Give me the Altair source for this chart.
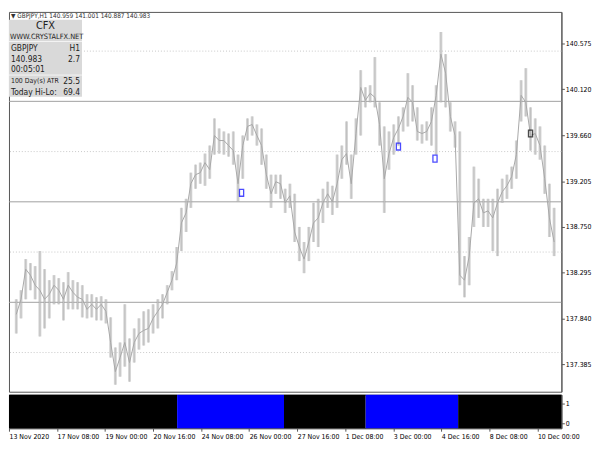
import altair as alt
import pandas as pd

# ---- data (4-hour groups of the H1 candles) ----
hi = [138.03, 138.12, 138.43, 138.39, 138.36, 138.51, 138.33, 138.22, 138.27, 138.24,
      138.20, 138.30, 138.22, 138.20, 138.17, 138.08, 138.08, 138.05, 138.06, 138.03,
      137.85, 137.55, 137.60, 137.98, 137.64, 137.74, 137.84, 137.91, 137.93, 137.98,
      138.03, 138.08, 138.17, 138.31, 138.55, 138.94, 139.03, 139.29, 139.37, 139.39,
      139.48, 139.56, 139.83, 139.73, 139.70, 139.68, 139.70, 139.47, 139.66, 139.83,
      139.85, 139.77, 139.73, 139.47, 139.27, 139.27, 139.27, 139.13, 139.18, 139.08,
      138.75, 138.60, 138.75, 138.99, 139.03, 139.13, 139.20, 139.16, 139.47, 139.56,
      139.80, 139.47, 139.83, 140.31, 140.14, 140.16, 140.44, 139.99, 139.75, 139.70,
      139.77, 139.85, 139.94, 140.28, 140.16, 139.94, 139.77, 139.80, 139.94, 140.16,
      140.69, 140.47, 139.99, 139.80, 139.70, 138.46, 138.65, 139.35, 139.23, 139.03,
      139.03, 139.03, 139.13, 139.23, 139.27, 139.35, 139.61, 140.21, 140.33, 139.94,
      139.83, 139.75, 139.56, 139.18, 138.94]
lo = [137.69, 137.84, 138.03, 138.12, 138.03, 137.66, 137.74, 137.84, 137.98, 137.98,
      137.82, 137.93, 137.93, 137.93, 137.85, 137.84, 137.85, 137.82, 137.82, 137.79,
      137.45, 137.18, 137.26, 137.36, 137.21, 137.40, 137.53, 137.57, 137.60, 137.69,
      137.74, 137.84, 137.98, 138.12, 138.22, 138.51, 138.70, 138.94, 139.13, 139.18,
      139.16, 139.23, 139.47, 139.48, 139.47, 139.45, 139.37, 139.00, 139.23, 139.61,
      139.66, 139.56, 139.37, 139.13, 138.94, 139.08, 139.03, 138.89, 138.94, 138.60,
      138.41, 138.29, 138.41, 138.60, 138.55, 138.79, 138.94, 138.87, 138.94, 139.23,
      139.37, 139.03, 139.47, 139.66, 139.94, 139.99, 139.94, 139.56, 138.89, 139.32,
      139.47, 139.56, 139.70, 139.75, 139.80, 139.61, 139.58, 139.61, 139.56, 139.47,
      139.99, 139.94, 139.70, 139.54, 138.17, 138.05, 138.17, 138.75, 138.84, 138.75,
      138.75, 138.51, 138.46, 138.99, 139.03, 139.13, 139.23, 139.80, 139.85, 139.51,
      139.47, 139.42, 139.08, 138.65, 138.46]
close = [137.88, 138.03, 138.33, 138.27, 138.17, 138.12, 138.03, 138.08, 138.17, 138.12,
         138.03, 138.17, 138.10, 138.05, 138.03, 137.93, 137.98, 137.93, 137.98, 137.91,
         137.60, 137.31, 137.45, 137.60, 137.40, 137.60, 137.69, 137.72, 137.74, 137.84,
         137.91, 137.98, 138.10, 138.22, 138.39, 138.79, 138.89, 139.18, 139.27, 139.29,
         139.39, 139.32, 139.66, 139.61, 139.61, 139.56, 139.51, 139.18, 139.56, 139.75,
         139.77, 139.66, 139.56, 139.27, 139.08, 139.20, 139.18, 138.99, 139.06, 138.70,
         138.55, 138.43, 138.60, 138.79, 138.84, 138.99, 139.08, 139.00, 139.18, 139.42,
         139.48, 139.18, 139.68, 140.14, 140.01, 140.08, 140.04, 139.77, 139.23, 139.48,
         139.64, 139.73, 139.85, 140.04, 139.99, 139.70, 139.68, 139.70, 139.80, 140.06,
         140.47, 140.28, 139.85, 139.66, 138.27, 138.22, 138.46, 138.99, 139.03, 138.89,
         138.91, 138.84, 138.99, 139.10, 139.16, 139.25, 139.47, 140.06, 139.99, 139.66,
         139.68, 139.56, 139.23, 138.84, 138.60]

tick_bars = [0, 40, 80, 120, 160, 200, 240, 280, 320, 360, 400, 440]
tick_labels = ["13 Nov 2020", "17 Nov 08:00", "19 Nov 00:00", "20 Nov 16:00",
               "24 Nov 08:00", "26 Nov 00:00", "27 Nov 16:00", "1 Dec 08:00",
               "3 Dec 00:00", "4 Dec 16:00", "8 Dec 08:00", "10 Dec 00:00"]
price_ticks = [140.575, 140.120, 139.660, 139.205, 138.750, 138.295, 137.840, 137.385]
solid_levels = [140.0, 139.0, 138.0]
dotted_levels = [140.5, 139.5, 138.5, 137.5]

marker_bars = [193, 326, 357, 438]
marker_prices = [139.09, 139.55, 139.43, 139.68]
marker_colors = ["#0000ff", "#0000ff", "#0000ff", "#000000"]

seg_start = [0, 140, 229, 297, 374]
seg_end = [140, 229, 297, 374, 460]
seg_color = ["#000000", "#0000ff", "#000000", "#0000ff", "#000000"]

info_left = ["GBPJPY", "140.983", "00:05:01", "100 Day(s) ATR", "Today Hi-Lo:"]
info_right = ["H1", "2.7", "", "25.5", "69.4"]
header = "\u25BC GBPJPY,H1  140.959 141.001 140.887 140.983"

FONT = "'DejaVu Sans Condensed', 'Liberation Sans', sans-serif"
W = 560
H_MAIN = 385
H_IND = 34
BOX_W = 74

df = pd.DataFrame({"bar": [4 * i + 2 for i in range(len(hi))],
                   "hi": hi, "lo": lo, "close": close})
xs = alt.Scale(domain=[0, 460], nice=False, zero=False)
ys = alt.Scale(domain=[137.11, 140.89], nice=False, zero=False)

band = alt.Chart(df).mark_bar(size=3, color="#d6d6d6").encode(
    x=alt.X("bar:Q", scale=xs, axis=None),
    y=alt.Y("lo:Q", scale=ys, title=None,
            axis=alt.Axis(orient="right", values=price_ticks, format=".3f",
                          grid=False, tickSize=3, labelPadding=1)),
    y2="hi:Q")
wick = alt.Chart(df).mark_rule(color="#c0c0c0", strokeWidth=1).encode(
    x=alt.X("bar:Q", scale=xs, axis=None), y=alt.Y("lo:Q", scale=ys), y2="hi:Q")
cl = alt.Chart(df).mark_line(color="#a8a8a8", strokeWidth=1).encode(
    x=alt.X("bar:Q", scale=xs, axis=None), y=alt.Y("close:Q", scale=ys))

solid = alt.Chart(pd.DataFrame({"v": solid_levels})).mark_rule(
    color="#a0a0a0", strokeWidth=1).encode(y=alt.Y("v:Q", scale=ys))
dotted = alt.Chart(pd.DataFrame({"v": dotted_levels})).mark_rule(
    color="#c8c8c8", strokeWidth=1, strokeDash=[1, 2]).encode(y=alt.Y("v:Q", scale=ys))

markers = alt.Chart(pd.DataFrame({"b": marker_bars, "p": marker_prices,
                                  "c": marker_colors})).mark_point(
    shape="M-0.6,-1L0.6,-1L0.6,1L-0.6,1Z", filled=False, size=49, strokeWidth=1.3).encode(
    x=alt.X("b:Q", scale=xs, axis=None), y=alt.Y("p:Q", scale=ys),
    color=alt.Color("c:N", scale=None))

one = pd.DataFrame({"a": [0]})
box = alt.Chart(one).mark_rect(color="#d9d9d9").encode(
    x=alt.value(0), x2=alt.value(BOX_W), y=alt.value(8), y2=alt.value(86))
sep = alt.Chart(pd.DataFrame({"yy": [30, 64]})).mark_rule(color="#f4f4f4").encode(
    x=alt.value(0), x2=alt.value(BOX_W), y=alt.Y("yy:Q", scale=None))

texts = []
texts.append(alt.Chart(one).mark_text(text=header, font=FONT, fontSize=6.5, align="left",
                                      baseline="middle", color="#333").encode(
    x=alt.value(2), y=alt.value(4)))
texts.append(alt.Chart(one).mark_text(text="CFX", font=FONT, fontSize=11, align="center",
                                      baseline="middle", color="#222").encode(
    x=alt.value(BOX_W / 2), y=alt.value(14)))
texts.append(alt.Chart(one).mark_text(text="WWW.CRYSTALFX.NET", font=FONT, fontSize=7.5,
                                      align="left", baseline="middle", color="#222").encode(
    x=alt.value(1), y=alt.value(25)))
ypos = [37, 47.5, 58, 70, 81]
for t, r, yy in zip(info_left, info_right, ypos):
    fs = 7 if len(t) > 12 else 8.5
    texts.append(alt.Chart(one).mark_text(text=t, font=FONT, fontSize=fs, align="left",
                                          baseline="middle", color="#222").encode(
        x=alt.value(2), y=alt.value(yy)))
    if r:
        texts.append(alt.Chart(one).mark_text(text=r, font=FONT, fontSize=8.5, align="right",
                                              baseline="middle", color="#222").encode(
            x=alt.value(BOX_W - 2), y=alt.value(yy)))

main = alt.layer(band, dotted, solid, wick, cl, markers, box, sep, *texts).properties(
    width=W, height=H_MAIN)

label_expr = "[" + ",".join("'%s'" % s for s in tick_labels) + "][round(datum.value/40)]"
seg = pd.DataFrame({"s": seg_start, "e": seg_end, "c": seg_color})
ind = alt.Chart(seg).mark_rect().encode(
    x=alt.X("s:Q", scale=xs, title=None,
            axis=alt.Axis(values=tick_bars, labelExpr=label_expr, labelAlign="left",
                          tickSize=3, grid=False, labelPadding=1, labelFlush=False,
                          labelOverlap=False, labelFontSize=7)),
    x2="e:Q",
    y=alt.Y(datum=1.45, type="quantitative",
            scale=alt.Scale(domain=[-0.25, 1.45], nice=False, zero=False), title=None,
            axis=alt.Axis(orient="right", values=[0, 1], format="d", grid=False,
                          tickSize=3, labelPadding=1)),
    y2=alt.Y2(datum=-0.25),
    color=alt.Color("c:N", scale=None)).properties(width=W, height=H_IND)

chart = alt.vconcat(main, ind, spacing=1).properties(
    padding={"left": 0, "top": 0, "right": 0, "bottom": 0}
).configure_view(stroke="#555555", strokeWidth=1).configure_axis(
    labelFont=FONT, labelFontSize=7, labelColor="#000", tickColor="#555",
    domainColor="#555")

chart.save("out.html", embed_options={"renderer": "svg", "actions": False})
